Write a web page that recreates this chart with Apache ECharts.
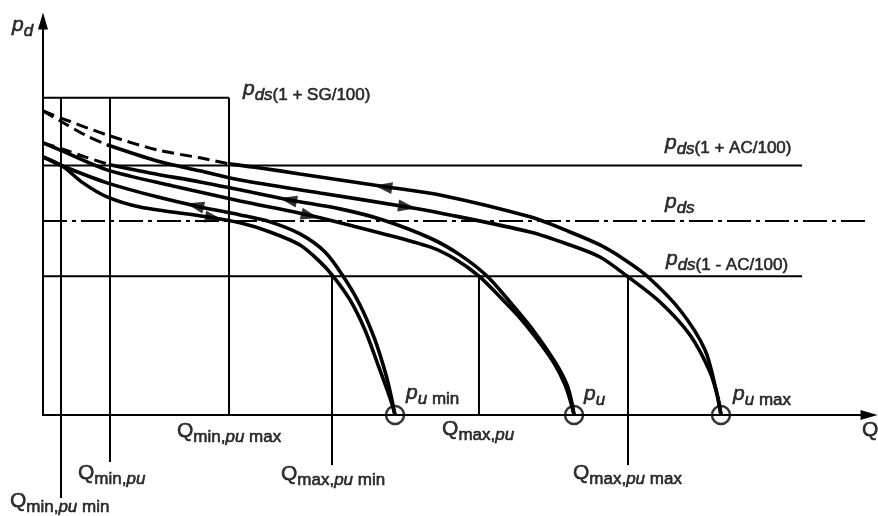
<!DOCTYPE html>
<html lang="en">
<head>
    <meta charset="UTF-8">
    <title>pd - Q</title>
    <script src="https://cdn.jsdelivr.net/npm/echarts@6/dist/echarts.min.js"></script>
    <style>
        body { margin: 0; background: #fff; }
    </style>
</head>
<body>
<div id="main" style="width: 878px;height:516px;"></div>
<script>
    // outlet pressure levels, in % of pds
    var pdsLevel = 100;
    var acLevels = [128.5, 71.5];   // pds(1 + AC/100), pds(1 - AC/100)
    var sgLevel = 163.4;            // pds(1 + SG/100)
    var acLineEnd = 91.9;
    var pdsLineEnd = 101;

    // flow marks, Q in % of axis length: pumin, pu, pumax
    var qMinMarks = [2.18, 8.11, 22.52];
    var qMaxMarks = [34.99, 52.78, 70.82];
    var qMinLeader = [-42.8, -24.2, 0];
    var qMaxLeader = [-25.8, 0, -25.8];
    var qLockup = [42.62, 64.29, 82.08];

    // characteristic curves [Q, pd]
    var pumaxUpperDash = [[0, 156.7], [2.42, 152.6], [7.75, 144.3], [13.80, 136.6], [19.01, 132.5], [22.52, 129.4]];
    var pumaxUpper = [[22.52, 129.4], [26.27, 127.3], [31.11, 124.2], [41.65, 117.5], [48.06, 113.4], [58.96, 102.1],
        [63.80, 94.3], [67.43, 87.6], [70.46, 79.9], [73.12, 71.6], [77.12, 54.1], [80.15, 33.5], [81.48, 12.9], [82.08, 0]];
    var pumaxLowerDash = [[0, 156.7], [2.30, 151.0], [5.08, 144.3], [7.75, 139.2]];
    var pumaxLower = [[7.75, 139.2], [13.80, 130.9], [19.01, 125.8], [23.85, 121.1], [33.54, 114.4], [44.07, 107.2],
        [48.06, 104.1], [58.96, 94.3], [63.80, 87.6], [67.43, 81.4], [70.70, 71.6], [74.70, 58.2], [78.33, 41.2],
        [80.75, 22.2], [81.72, 8.8], [82.08, 0]];
    var puUpperDash = [[0, 140.2], [2.30, 137.1], [5.08, 133.0], [8.11, 128.9]];
    var puUpper = [[8.11, 128.9], [12.95, 124.7], [19.01, 120.1], [23.85, 116.0], [29.90, 110.8], [35.96, 106.2],
        [41.16, 100.5], [46.85, 91.2], [50.48, 82.5], [53.75, 71.6], [56.54, 58.2], [59.32, 43.8], [61.99, 27.3],
        [63.44, 15.5], [64.04, 6.2], [64.29, 0]];
    var puLower = [[0, 140.2], [2.30, 136.1], [7.75, 126.3], [15.74, 118.0], [23.85, 110.3], [32.08, 103.1],
        [40.80, 93.8], [46.85, 86.6], [49.88, 80.4], [52.78, 71.6], [55.33, 60.8], [57.75, 50.0], [60.17, 37.1],
        [61.99, 25.8], [63.20, 15.5], [63.92, 6.2], [64.29, 0]];
    var puminUpper = [[0, 133.0], [2.30, 128.4], [7.75, 119.6], [13.80, 112.4], [19.01, 107.2], [23.85, 103.1],
        [27.48, 99.5], [31.11, 93.3], [34.14, 84.0], [36.32, 71.6], [38.38, 56.7], [40.19, 38.7], [41.53, 20.6],
        [42.25, 7.7], [42.62, 0]];
    var puminLower = [[0, 133.0], [2.30, 128.4], [4.84, 119.6], [7.75, 112.4], [11.74, 107.2], [19.85, 102.1],
        [23.85, 99.0], [27.48, 94.3], [31.11, 87.6], [33.54, 78.9], [35.11, 71.6], [37.17, 59.3], [38.98, 43.8],
        [40.56, 25.8], [42.01, 8.8], [42.62, 0]];

    // flow direction arrows [Q, pd, direction]
    var arrowsAt = [[41.19, 117.6, -1], [44.07, 107.2, 1], [29.66, 110.9, -1], [32.32, 102.6, 1], [18.40, 107.9, -1], [20.70, 101.4, 1]];
    var arrowCurves = [pumaxUpper, pumaxLower, puUpper, puLower, puminUpper, puminLower];

    var labelTexts = {
        pd: '{m|p}{si|d}',
        sg: '{m|p}{si|ds}{s|(1 + SG/100)}',
        acUp: '{m|p}{si|ds}{s|(1 + AC/100)}',
        pds: '{m|p}{si|ds}',
        acLo: '{m|p}{si|ds}{s|(1 - AC/100)}',
        pumin: '{m|p}{si|u}{s| min}',
        pu: '{m|p}{si|u}',
        pumax: '{m|p}{si|u}{s| max}',
        q: '{q|Q}',
        qMinPumax: '{q|Q}{s|min,}{si|pu}{s| max}',
        qMaxPu: '{q|Q}{s|max,}{si|pu}',
        qMinPu: '{q|Q}{s|min,}{si|pu}',
        qMaxPumin: '{q|Q}{s|max,}{si|pu}{s| min}',
        qMaxPumax: '{q|Q}{s|max,}{si|pu}{s| max}',
        qMinPumin: '{q|Q}{s|min,}{si|pu}{s| min}'
    };

    var myChart = echarts.init(document.getElementById('main'));

    function line(data, width, type, smooth) {
        return {
            type: 'line', data: data, symbol: 'none', showSymbol: false, clip: false, silent: true,
            smooth: smooth || false, animation: false, z: 3,
            lineStyle: {color: '#000', width: width, type: type || 'solid'}
        };
    }

    var series = [];
    // reference box and levels
    series.push(line([[0, sgLevel], [qMinMarks[2], sgLevel]], 2));
    for (var i = 0; i < qMinMarks.length; i++) {
        series.push(line([[qMinMarks[i], sgLevel], [qMinMarks[i], qMinLeader[i]]], 2));
    }
    for (var i = 0; i < qMaxMarks.length; i++) {
        series.push(line([[qMaxMarks[i], acLevels[1]], [qMaxMarks[i], qMaxLeader[i]]], 2));
    }
    series.push(line([[0, acLevels[0]], [acLineEnd, acLevels[0]]], 2));
    series.push(line([[0, acLevels[1]], [acLineEnd, acLevels[1]]], 2));
    series.push(line([[0, pdsLevel], [pdsLineEnd, pdsLevel]], 2, [24, 5, 4, 5]));

    // curves
    [pumaxUpperDash, pumaxLowerDash, puUpperDash].forEach(function (c) {
        series.push(line(c, 3, [12, 6], 0.3));
    });
    [pumaxUpper, pumaxLower, puUpper, puLower, puminUpper, puminLower].forEach(function (c) {
        series.push(line(c, 3.6, 'solid', 0.3));
    });

    // lock-up circles
    series.push({
        type: 'scatter', data: qLockup.map(function (q) { return [q, 0]; }), symbol: 'circle', symbolSize: 18,
        clip: false, silent: true, z: 6,
        itemStyle: {color: 'rgba(0,0,0,0)', borderColor: '#000', borderWidth: 2.5}
    });

    var arrowSeriesIndex = series.length;
    series.push({
        type: 'scatter', data: arrowsAt.map(function (a) { return [a[0], a[1]]; }), symbol: 'triangle',
        symbolSize: [12, 18], clip: false, silent: true, z: 7, itemStyle: {color: '#000'}
    });

    // text annotations
    var anchors = [
        ['pd', -3.75, 199.5], ['sg', 24.21, 166.5], ['acUp', 75.30, 138.7], ['pds', 75.30, 108.2],
        ['acLo', 75.42, 78.9], ['pumin', 43.95, 9.8], ['pu', 65.50, 9.3], ['pumax', 83.54, 9.3],
        ['q', 99.15, -9.3], ['qMinPumax', 16.22, -9.8], ['qMaxPu', 48.31, -8.8], ['qMinPu', 4.24, -31.4],
        ['qMaxPumin', 28.81, -32.0], ['qMaxPumax', 64.16, -31.4], ['qMinPumin', -4.0, -45.9]
    ];
    var font = 'Liberation Sans';
    function tok(size, italic, pad) {
        return {
            fontFamily: font, fontSize: size, fontStyle: italic ? 'italic' : 'normal', color: '#000',
            textBorderColor: '#000', textBorderWidth: 0.6, lineHeight: 22, padding: pad
        };
    }
    series.push({
        type: 'scatter', symbolSize: 0, clip: false, silent: true, z: 8,
        data: anchors.map(function (a) {
            return {value: [a[1], a[2]], label: {formatter: labelTexts[a[0]]}};
        }),
        label: {
            show: true, position: 'right', distance: 0,
            rich: {
                m: tok(21, true, [0, 0, 6, 0]),
                q: tok(21, false, [0, 0, 6, 0]),
                s: tok(17, false, [6, 0, 0, 0]),
                si: tok(17, true, [6, 0, 0, 0])
            }
        }
    });

    var axisCommon = {
        type: 'value',
        axisLine: {show: true, onZero: false, symbol: ['none', 'triangle'], symbolSize: [10, 17], lineStyle: {color: '#000', width: 2}},
        axisTick: {show: false},
        axisLabel: {show: false},
        splitLine: {show: false}
    };

    var option = {
        backgroundColor: '#fff',
        animation: false,
        grid: {left: 43, right: 9, top: 21, bottom: 101},
        xAxis: Object.assign({}, axisCommon, {min: 0, max: 100}),
        yAxis: Object.assign({}, axisCommon, {min: 0, max: 203}),
        series: series
    };
    myChart.setOption(option);

    // turn arrows along the curve they sit on
    var arrowData = arrowsAt.map(function (a, k) {
        var c = arrowCurves[k];
        var j = 0;
        while (j < c.length - 2 && c[j + 1][0] < a[0]) j++;
        var p1 = myChart.convertToPixel({gridIndex: 0}, c[j]);
        var p2 = myChart.convertToPixel({gridIndex: 0}, c[j + 1]);
        var dx = (p2[0] - p1[0]) * a[2], dy = (p2[1] - p1[1]) * a[2];
        var phi = Math.atan2(-dy, dx) * 180 / Math.PI;
        return {value: [a[0], a[1]], symbolRotate: phi - 90};
    });
    series[arrowSeriesIndex].data = arrowData;
    myChart.setOption({series: series});
</script>
</body>
</html>
